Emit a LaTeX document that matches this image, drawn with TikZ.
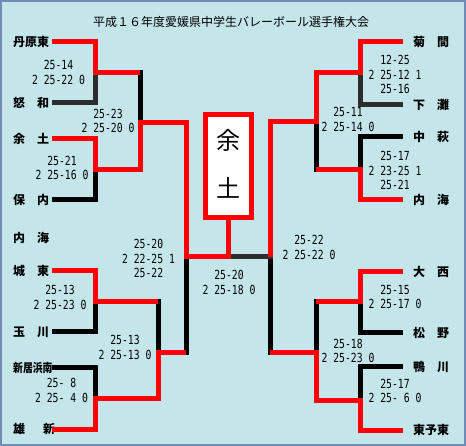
\documentclass[tikz,border=0pt]{standalone}
\usepackage{fontspec}
\usepackage{graphicx}
\newfontfamily\jpfont{Noto Sans CJK JP}
\newfontfamily\scorefont[FakeStretch=0.78]{DejaVu Sans Mono}
\definecolor{bgc}{RGB}{196,229,234}
\definecolor{bordc}{RGB}{110,140,180}
\definecolor{winred}{RGB}{255,0,0}
\definecolor{losedark}{RGB}{45,45,45}
\tikzset{
  lname/.style={anchor=west,inner sep=0pt,font=\jpfont\bfseries\fontsize{12}{12}\selectfont},
  rname/.style={anchor=west,inner sep=0pt,font=\jpfont\bfseries\fontsize{12}{12}\selectfont},
  score/.style={align=center,inner sep=0pt,font=\scorefont\fontsize{12.5}{14.5}\selectfont},
  rline/.style={draw=winred,line width=5pt,line join=miter,line cap=butt},
  bline/.style={draw=black,line width=5pt,line join=miter,line cap=rect},
  dline/.style={draw=losedark,line width=5pt,line join=miter,line cap=rect},
}
\begin{document}
\begin{tikzpicture}[x=1pt,y=-1pt]
\useasboundingbox (0,0) rectangle (466,446);
\fill[bgc] (0,0) rectangle (466,446);
\draw[bordc,line width=2pt] (1,1) rectangle (465,445);

% title
\node[inner sep=0pt,font=\jpfont\fontsize{12}{12}\selectfont] (title) at (231,21.5) {平成１６年度愛媛県中学生バレーボール選手権大会};

% left teams
\node[lname] (t1) at (13,42) {丹原東};
\node[lname] (t2) at (13,103) {怒　和};
\node[lname] (t3) at (13,139) {余　土};
\node[lname] (t4) at (13,200) {保　内};
\node[lname] (t0) at (13,238) {内　海};
\node[lname] (t5) at (13,271) {城　東};
\node[lname] (t6) at (13,332) {玉　川};
\node[lname] (t7) at (13,368) {\scalebox{0.82}[1]{新居浜南}};
\node[lname] (t8) at (13,429) {雄\hspace{18pt}新};

% right teams
\node[rname] (r1) at (413,42) {菊　間};
\node[rname] (r2) at (413,105) {下　灘};
\node[rname] (r3) at (413,137) {中　萩};
\node[rname] (r4) at (413,200) {内　海};
\node[rname] (r5) at (413,272) {大　西};
\node[rname] (r6) at (413,333) {松　野};
\node[rname] (r7) at (413,367) {鴨　川};
\node[rname] (r8) at (413,430) {東予東};

% champion box
\node[draw=winred,line width=5pt,fill=white,minimum width=46pt,minimum height=103pt,inner sep=0pt] (champ) at (228,166) {};
\node[inner sep=0pt,font=\jpfont\fontsize{24}{24}\selectfont] (c1) at (228,140) {余};
\node[inner sep=0pt,font=\jpfont\fontsize{24}{24}\selectfont] (c2) at (228,188) {土};

% junction coordinates
\coordinate (L0) at (52,0);
\coordinate (LB) at (54.5,0);
\coordinate (R0) at (403,0);
\coordinate (RB) at (400.5,0);
\coordinate (j1) at (95,73);
\coordinate (j2) at (95,170);
\coordinate (j3) at (95,302);
\coordinate (j4) at (95,398);
\coordinate (s1) at (140,123);
\coordinate (s2) at (158,353);
\coordinate (fL) at (186,257);
\coordinate (fM) at (228,257);
\coordinate (fR) at (270,257);
\coordinate (rj1) at (360,73);
\coordinate (rj2) at (360,170);
\coordinate (rj3) at (360,302);
\coordinate (rj4) at (360,400);
\coordinate (rs1) at (316,122);
\coordinate (rs2) at (316,353);

% losing lines (drawn first)
\draw[dline] (t2.east -| LB) -| (j1);
\draw[bline] (j1 -| s1) -- (s1);
\draw[bline] (t4.east -| LB) -| (j2);
\draw[bline] (t6.east -| LB) -| (j3);
\draw[bline] (j3 -| s2) -- (s2);
\draw[bline] (t7.east -| LB) -| (j4);
\draw[bline] (s2 -| fL) -- (fL);
\draw[dline] (r2.west -| RB) -| (rj1);
\draw[bline] (r3.west -| RB) -| (rj2);
\draw[bline] (rj2 -| rs1) -- (rs1);
\draw[bline] (r6.west -| RB) -| (rj3);
\draw[bline] (rj3 -| rs2) -- (rs2);
\draw[bline] (r7.west -| RB) -| (rj4);
\draw[bline] (rs2 -| fR) -- (fR);
\draw[dline] (fM) -- (fR);

% winning lines
\draw[rline] (t1.east -| L0) -| (j1) -- (j1 -| s1);
\draw[rline] (t3.east -| L0) -| (j2) -- (j2 -| s1) -- (s1) -- (s1 -| fL) -- (fL) -- (fM) -- (champ.south);
\draw[rline] (t5.east -| L0) -| (j3) -- (j3 -| s2);
\draw[rline] (t8.east -| L0) -| (j4) -- (j4 -| s2) -- (s2) -- (s2 -| fL);
\draw[rline] (r1.west -| R0) -| (rj1) -- (rj1 -| rs1) -- (rs1) -- (rs1 -| fR) -- (fR);
\draw[rline] (r4.west -| R0) -| (rj2) -- (rj2 -| rs1);
\draw[rline] (r5.west -| R0) -| (rj3) -- (rj3 -| rs2);
\draw[rline] (r8.west -| R0) -| (rj4) -- (rj4 -| rs2) -- (rs2) -- (rs2 -| fR);

% scores
\node[score] (sc1) at (58.5,72.5) {25-14\\2 25-22 0};
\node[score] (sc2) at (108,121) {25-23\\2 25-20 0};
\node[score] (sc3) at (62,168) {25-21\\2 25-16 0};
\node[score] (sc4) at (148.5,258.5) {25-20\\2 22-25 1\\25-22};
\node[score] (sc5) at (60,297.5) {25-13\\2 25-23 0};
\node[score] (sc6) at (125,347.5) {25-13\\2 25-13 0};
\node[score] (sc7) at (61.5,390.5) {25- 8\\2 25- 4 0};
\node[score] (scf) at (229,282.5) {25-20\\2 25-18 0};
\node[score] (rsc1) at (395,74.5) {12-25\\2 25-12 1\\25-16};
\node[score] (rsc2) at (348,119.5) {25-11\\2 25-14 0};
\node[score] (rsc3) at (395,170.5) {25-17\\2 23-25 1\\25-21};
\node[score] (rsc4) at (309,247.5) {25-22\\2 25-22 0};
\node[score] (rsc5) at (395,297) {25-15\\2 25-17 0};
\node[score] (rsc6) at (348,351) {25-18\\2 25-23 0};
\node[score] (rsc7) at (395,391) {25-17\\2 25- 6 0};
\end{tikzpicture}
\end{document}
